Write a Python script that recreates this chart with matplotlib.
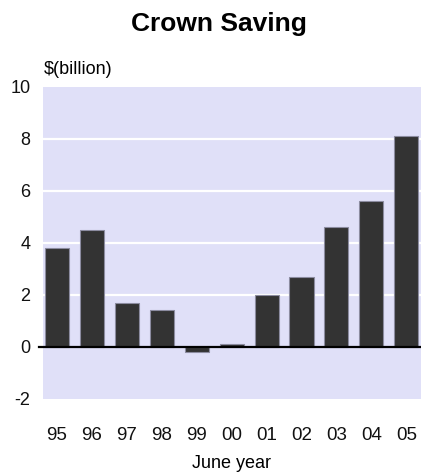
import matplotlib.pyplot as plt
import numpy as np

# Crown saving by June year, $ billion
YEARS = ["95", "96", "97", "98", "99", "00", "01", "02", "03", "04", "05"]
SAVING = [3.8, 4.5, 1.7, 1.4, -0.2, 0.1, 2.0, 2.7, 4.6, 5.6, 8.1]
Y_TICKS = [-2, 0, 2, 4, 6, 8, 10]

BAR_COLOR = "#333333"
EDGE_COLOR = "#8c8ca0"
PANEL_COLOR = "#e0e0f8"

plt.rcParams["font.family"] = ["Liberation Sans", "DejaVu Sans"]
plt.rcParams["axes.unicode_minus"] = False

fig = plt.figure(figsize=(4.21, 4.72), dpi=100)
ax = fig.add_axes([0.102, 0.155, 0.898, 0.661])
ax.set_facecolor(PANEL_COLOR)

x = np.arange(len(YEARS))
ax.bar(x, SAVING, width=0.69, color=BAR_COLOR, edgecolor=EDGE_COLOR,
       linewidth=0.8, zorder=3)

ax.set_xlim(-0.4, 10.42)
ax.set_ylim(-2, 10)
ax.set_yticks(Y_TICKS)
ax.set_xticks(x)
ax.set_xticklabels(YEARS)

# white gridlines inside the panel (2..8 only)
for v in [2, 4, 6, 8]:
    ax.axhline(v, color="white", linewidth=1.6, zorder=1)

# zero line, sticks out slightly to the left of the panel
ax.plot([-0.5, 10.5], [0, 0], color="black", linewidth=1.6, zorder=4,
        clip_on=False)

for spine in ax.spines.values():
    spine.set_visible(False)
ax.tick_params(axis="both", length=0, colors="#111111")
ax.tick_params(axis="y", pad=9, labelsize=13)
ax.tick_params(axis="x", pad=20, labelsize=13.5)

ax.set_xlabel("June year", fontsize=13, labelpad=8)

fig.text(0.52, 0.950, "Crown Saving", ha="center", va="center",
         fontsize=19, fontweight="bold")
fig.text(0.103, 0.852, "$(billion)", ha="left", va="center", fontsize=13)

fig.savefig("out.png", dpi=100)
